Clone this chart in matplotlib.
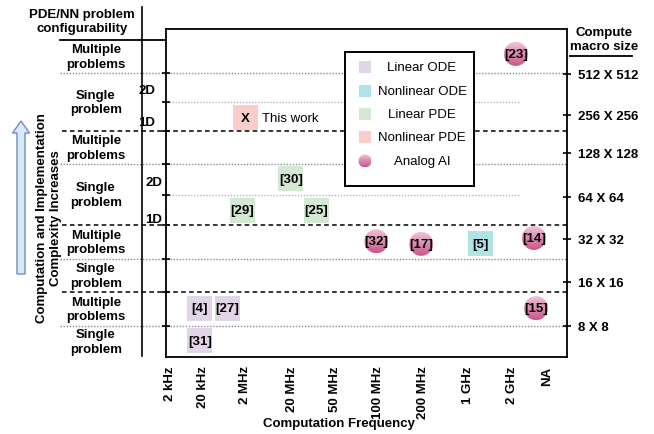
import matplotlib
matplotlib.use('Agg')
import matplotlib.pyplot as plt
import numpy as np
from matplotlib.patches import Ellipse, Polygon, Rectangle
from matplotlib.colors import LinearSegmentedColormap

plt.rcParams['font.family'] = ['Liberation Sans', 'DejaVu Sans']
plt.rcParams['font.size'] = 9.5

# ---------------- data ----------------
freq_labels = ['2 kHz', '20 kHz', '2 MHz', '20 MHz', '50 MHz', '100 MHz',
               '200 MHz', '1 GHz', '2 GHz', 'NA']
size_labels = ['512 X 512', '256 X 256', '128 X 128', '64 X 64',
               '32 X 32', '16 X 16', '8 X 8']
categories = ['Linear ODE', 'Nonlinear ODE', 'Linear PDE', 'Nonlinear PDE', 'Analog AI']
cat_colors = ['#e1d5e7', '#b0e3e6', '#d5e8d4', '#f8cecc', None]

ref_labels = ['[23]', 'X', '[30]', '[29]', '[25]', '[32]', '[17]', '[5]',
              '[14]', '[15]', '[4]', '[27]', '[31]']
ref_category = ['Analog AI', 'Nonlinear PDE', 'Linear PDE', 'Linear PDE', 'Linear PDE',
                'Analog AI', 'Analog AI', 'Nonlinear ODE', 'Analog AI', 'Analog AI',
                'Linear ODE', 'Linear ODE', 'Linear ODE']
# x in frequency-slot units, y in configurability-level units
ref_freq = [7.95, 1.80, 2.84, 1.73, 3.41, 4.78, 5.80, 7.14, 8.36, 8.41, 0.77, 1.39, 0.77]
ref_level = [9.24, 7.29, 5.43, 4.48, 4.48, 3.53, 3.45, 3.45, 3.63, 1.49, 1.49, 1.49, 0.49]

row_labels = ['Multiple\nproblems', 'Single\nproblem', 'Multiple\nproblems', 'Single\nproblem',
              'Multiple\nproblems', 'Single\nproblem', 'Multiple\nproblems', 'Single\nproblem']

# ---------------- layout ----------------
W, H = 654, 435
AX_L, AX_R, AX_T, AX_B = 166, 567, 30, 358
PX_X = 44.0
PX_Y = 32.8


def fx(px):
    return (px - AX_L) / (AX_R - AX_L)


def ly(py):
    return (AX_B - py) / PX_Y


tick_px = [170, 203, 245, 292, 335, 378, 423, 468, 512, 547]
tick_pos = [(p - AX_L) / PX_X for p in tick_px]
size_px = [75, 116, 154, 198, 240, 283, 327]
row_bounds_px = [41, 74, 132, 165, 226, 260, 293, 327, 358]
dotted_px = [74, 165, 260, 327]
dashed_px = [132, 226, 293]
short_px = [103, 196]

fig = plt.figure(figsize=(W / 100, H / 100), dpi=100)
fig.patch.set_facecolor('white')

ov = fig.add_axes([0, 0, 1, 1], zorder=-1)
ov.set_xlim(0, W)
ov.set_ylim(H, 0)
ov.axis('off')

ax = fig.add_axes([AX_L / W, 1 - AX_B / H, (AX_R - AX_L) / W, (AX_B - AX_T) / H])
ax.set_facecolor('none')
XMAX = (AX_R - AX_L) / PX_X
YMAX = (AX_B - AX_T) / PX_Y
ax.set_xlim(0, XMAX)
ax.set_ylim(0, YMAX)
for s in ax.spines.values():
    s.set_linewidth(1.3)
    s.set_color('black')

ax.set_xticks(tick_pos)
ax.set_xticklabels(freq_labels, rotation=90, fontweight='bold', fontsize=9.5)
ax.tick_params(axis='x', length=0, pad=6)

left_ticks = sorted([ly(p) for p in dotted_px + dashed_px + short_px])
ax.set_yticks(left_ticks)
ax.tick_params(axis='y', direction='inout', length=6, width=1.2, labelleft=False)

ax2 = ax.twinx()
ax2.set_ylim(0, YMAX)
ax2.set_yticks([ly(p) for p in size_px])
ax2.set_yticklabels(size_labels, fontweight='bold', fontsize=9.5)
ax2.tick_params(axis='y', direction='inout', length=6, width=1.2, pad=5)
for s in ax2.spines.values():
    s.set_visible(False)

ytr = ax.get_yaxis_transform()
# separators
for p in dotted_px:
    ax.plot([fx(60), 1], [ly(p)] * 2, transform=ytr, clip_on=False,
            color='#8c8c8c', lw=1.0, linestyle=(0, (1, 1.2)), zorder=1)
for p in dashed_px:
    ax.plot([fx(62), 1], [ly(p)] * 2, transform=ytr, clip_on=False,
            color='black', lw=1.1, linestyle=(0, (3, 2.2)), zorder=1)
for p in short_px:
    ax.plot([0, fx(520)], [ly(p)] * 2, transform=ytr, clip_on=False,
            color='#b5b5b5', lw=1.0, linestyle=(0, (1, 1.2)), zorder=1)
ax.plot([fx(60), 0], [ly(41)] * 2, transform=ytr, clip_on=False, color='black', lw=1.3)
ax.plot([fx(142), fx(142)], [ly(8), ly(357)], transform=ytr, clip_on=False,
        color='black', lw=1.2)

# left row labels
for i, lab in enumerate(row_labels):
    mid = (row_bounds_px[i] + row_bounds_px[i + 1]) / 2
    ax.text(fx(96), ly(mid), lab, transform=ytr, ha='center', va='center',
            fontweight='bold', linespacing=1.25)
for txt, px_, py_ in [('2D', 147, 91), ('1D', 147, 123), ('2D', 154, 183), ('1D', 154, 220)]:
    ax.text(fx(px_), ly(py_), txt, transform=ytr, ha='center', va='center', fontweight='bold')

# titles / labels on overlay
ov.text(82, 22, 'PDE/NN problem\nconfigurability', ha='center', va='center',
        fontweight='bold', linespacing=1.25)
ov.text(604, 40, 'Compute\nmacro size', ha='center', va='center',
        fontweight='bold', linespacing=1.25)
ov.plot([570, 632], [57, 57], color='black', lw=1.3)
ov.text(339, 424, 'Computation Frequency', ha='center', va='center',
        fontweight='bold', fontsize=9.5)
ov.text(49, 218, 'Computation and Implementation\nComplexity Increases', rotation=90,
        ha='center', va='center', fontweight='bold', linespacing=1.25)
arrow = Polygon([[17, 275], [25, 275], [25, 134], [29.5, 134], [21, 122],
                 [12.5, 134], [17, 134]], closed=True,
                facecolor='#dae8fc', edgecolor='#6c8ebf', lw=1.0)
ov.add_patch(arrow)

# gradient for analog AI circles
grad_cmap = LinearSegmentedColormap.from_list('pk', ['#f1c3d8', '#de8ab2', '#c9568a'])
grad = np.linspace(0, 1, 64).reshape(-1, 1)


def grad_circle(a, x, y, w, h, z=3):
    e = Ellipse((x, y), w, h, fill=False, edgecolor='none', zorder=z)
    a.add_patch(e)
    yb, yt = sorted([y - h / 2, y + h / 2])
    if a.yaxis_inverted():
        yb, yt = yt, yb
    im = a.imshow(grad, extent=[x - w / 2, x + w / 2, yb, yt], origin='upper',
                  cmap=grad_cmap, aspect='auto', zorder=z, interpolation='bilinear')
    im.set_clip_path(e)


sq_size = (25 * 0.72) ** 2
for lab, cat, xv, yv in zip(ref_labels, ref_category, ref_freq, ref_level):
    if cat == 'Analog AI':
        grad_circle(ax, xv, yv, 24 / PX_X, 24 / PX_Y)
    else:
        ax.scatter([xv], [yv], s=sq_size, marker='s',
                   color=cat_colors[categories.index(cat)], edgecolors='none', zorder=3)
    ax.text(xv, yv, lab, ha='center', va='center', fontweight='bold', zorder=4)
    if lab == 'X':
        ax.annotate('This work', xy=(xv, yv), xytext=(12, 0), textcoords='offset points',
                    ha='left', va='center', zorder=4)

ax.set_xlim(0, XMAX)
ax.set_ylim(0, YMAX)

# legend
lg = fig.add_axes([345 / W, 1 - 187 / H, 129 / W, 134 / H], zorder=5)
lg.set_xlim(0, 129)
lg.set_ylim(134, 0)
lg.set_xticks([])
lg.set_yticks([])
lg.set_facecolor('white')
for s in lg.spines.values():
    s.set_linewidth(1.4)
    s.set_color('black')
leg_y = [15, 39, 62, 85, 109]
for cat, col, yy in zip(categories, cat_colors, leg_y):
    if cat == 'Analog AI':
        grad_circle(lg, 20, yy, 13, 13)
    else:
        lg.add_patch(Rectangle((14, yy - 6), 12, 12, facecolor=col, edgecolor='none'))
    lg.text(77, yy, cat, ha='center', va='center', fontsize=9.5)
lg.set_xlim(0, 129)
lg.set_ylim(134, 0)

fig.savefig('out.png', dpi=100)
